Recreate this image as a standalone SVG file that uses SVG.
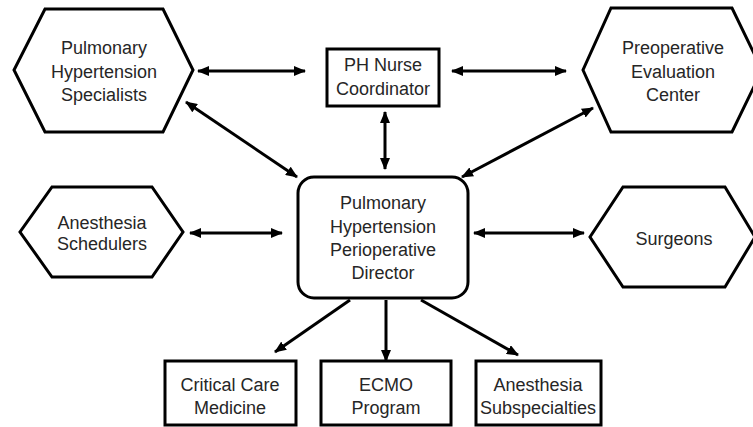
<svg xmlns="http://www.w3.org/2000/svg" width="753" height="427" viewBox="0 0 753 427">
<defs>
<style>
.shape{fill:#fff;stroke:#000;stroke-width:3;stroke-linejoin:miter}
.lbl{font-family:"Liberation Sans",Arial,sans-serif;font-size:18px;fill:#262626;text-anchor:middle;dominant-baseline:central}
.conn{stroke:#000;stroke-width:3;fill:none}
.bi{marker-start:url(#ah);marker-end:url(#ah)}
.uni{marker-end:url(#ah)}
</style>
<marker id="ah" markerUnits="userSpaceOnUse" markerWidth="12" markerHeight="10" refX="11" refY="5" orient="auto-start-reverse" viewBox="0 0 12 10">
<path d="M0,0 L12,5 L0,10 z" fill="#000"/>
</marker>
</defs>
<rect width="753" height="427" fill="#fff"/>
<g id="connectors">
<line class="conn bi" x1="198" y1="71" x2="305" y2="71"/>
<line class="conn bi" x1="452" y1="71" x2="566" y2="71"/>
<line class="conn bi" x1="186" y1="102" x2="297" y2="177"/>
<line class="conn bi" x1="593" y1="108" x2="462" y2="177"/>
<line class="conn bi" x1="385" y1="112" x2="385" y2="169"/>
<line class="conn bi" x1="190" y1="233" x2="282" y2="233"/>
<line class="conn bi" x1="474" y1="233" x2="584" y2="233"/>
<line class="conn uni" x1="350" y1="300" x2="275" y2="352"/>
<line class="conn uni" x1="386" y1="300" x2="386" y2="361"/>
<line class="conn uni" x1="421" y1="300" x2="518" y2="355"/>
</g>
<g id="pulmonary-hypertension-specialists">
<polygon class="shape" points="45,9 163,9 193,70 163,132 45,132 14,70"/>
<text class="lbl" x="104" y="48">Pulmonary</text>
<text class="lbl" x="104" y="72">Hypertension</text>
<text class="lbl" x="104" y="95">Specialists</text>
</g>
<g id="ph-nurse-coordinator">
<rect class="shape" x="327" y="49" width="112" height="57"/>
<text class="lbl" x="383" y="65">PH Nurse</text>
<text class="lbl" x="383" y="89">Coordinator</text>
</g>
<g id="preoperative-evaluation-center">
<polygon class="shape" points="611,8 732,8 762,70 732,132 611,132 583,70"/>
<text class="lbl" x="673" y="48">Preoperative</text>
<text class="lbl" x="673" y="72">Evaluation</text>
<text class="lbl" x="673" y="95">Center</text>
</g>
<g id="anesthesia-schedulers">
<polygon class="shape" points="52,187 152,187 183,232 152,277 52,277 20,232"/>
<text class="lbl" x="102" y="223">Anesthesia</text>
<text class="lbl" x="102" y="244">Schedulers</text>
</g>
<g id="director">
<rect class="shape" x="298" y="177" width="170" height="121" rx="16" ry="16"/>
<text class="lbl" x="383" y="203">Pulmonary</text>
<text class="lbl" x="383" y="227">Hypertension</text>
<text class="lbl" x="383" y="250">Perioperative</text>
<text class="lbl" x="383" y="273">Director</text>
</g>
<g id="surgeons">
<polygon class="shape" points="623,187 725,187 755,237 725,287 623,287 590,237"/>
<text class="lbl" x="674" y="239">Surgeons</text>
</g>
<g id="critical-care-medicine">
<rect class="shape" x="165" y="361" width="131" height="64"/>
<text class="lbl" x="230" y="385">Critical Care</text>
<text class="lbl" x="230" y="408">Medicine</text>
</g>
<g id="ecmo-program">
<rect class="shape" x="321" y="361" width="130" height="64"/>
<text class="lbl" x="386" y="385">ECMO</text>
<text class="lbl" x="386" y="408">Program</text>
</g>
<g id="anesthesia-subspecialties">
<rect class="shape" x="476" y="361" width="125" height="64"/>
<text class="lbl" x="538" y="385">Anesthesia</text>
<text class="lbl" x="538" y="408">Subspecialties</text>
</g>
</svg>
